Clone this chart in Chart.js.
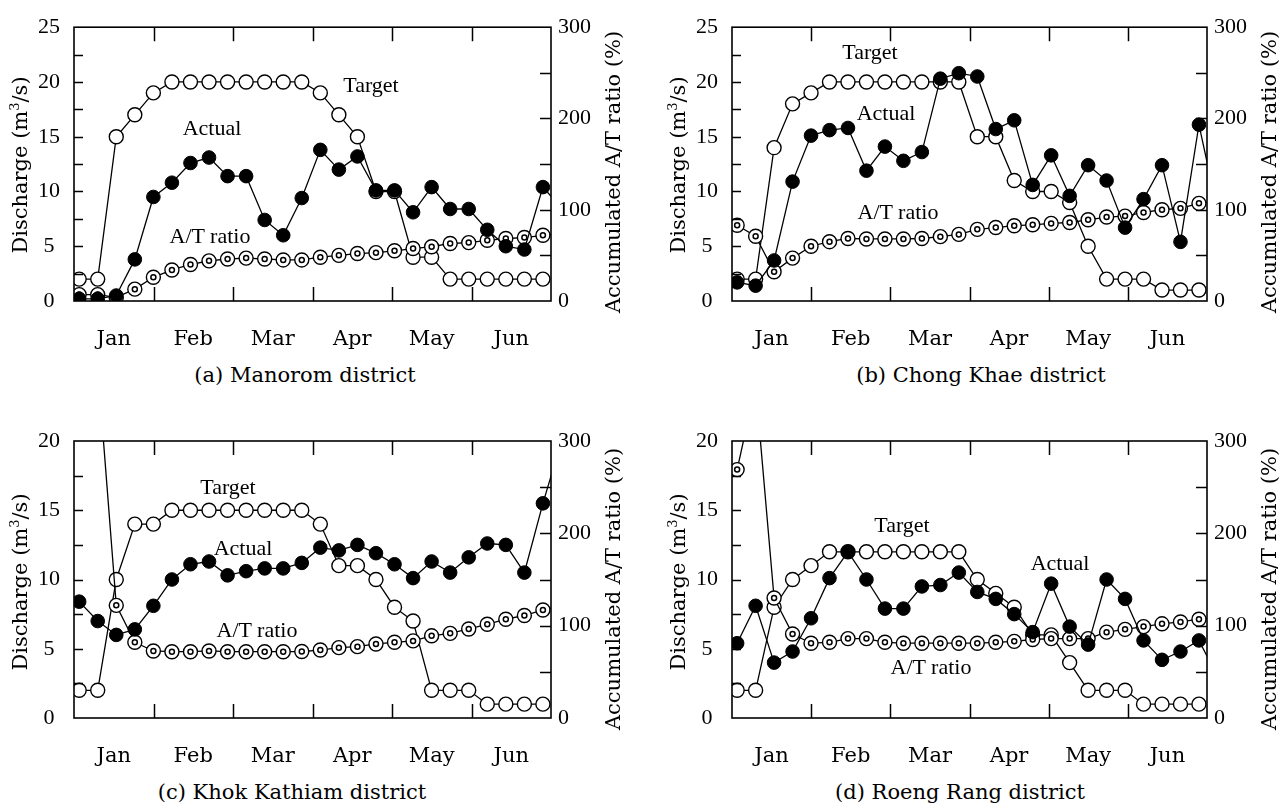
<!DOCTYPE html>
<html><head><meta charset="utf-8">
<script src="https://cdn.jsdelivr.net/npm/chart.js@4.4.1/dist/chart.umd.min.js"></script>
<style>
html,body{margin:0;padding:0;background:#fff;}
body{width:1281px;height:804px;overflow:hidden;position:relative;}
canvas{position:absolute;}
.t{position:absolute;white-space:nowrap;color:#000;font-family:'DejaVu Serif',serif;font-size:21px;line-height:1;transform:translate(-50%,-50%);}
.s{font-family:'Liberation Serif',serif;font-size:22px;}
.r{transform:translate(-50%,-50%) rotate(-90deg);}
sup{font-size:13px;vertical-align:0;position:relative;top:-8px;}
</style></head><body>
<canvas id="ca" width="640" height="360" style="left:0;top:0"></canvas>
<canvas id="cb" width="641" height="360" style="left:640px;top:0"></canvas>
<canvas id="cc" width="640" height="360" style="left:0;top:410px"></canvas>
<canvas id="cd" width="641" height="360" style="left:640px;top:410px"></canvas>

<div class="t r" style="left:20px;top:165px">Discharge (m<sup>3</sup>/s)</div>
<div class="t r" style="left:613px;top:172px">Accumulated A/T ratio (%)</div>
<div class="t r" style="left:678px;top:165px">Discharge (m<sup>3</sup>/s)</div>
<div class="t r" style="left:1269px;top:172px">Accumulated A/T ratio (%)</div>
<div class="t r" style="left:20px;top:582px">Discharge (m<sup>3</sup>/s)</div>
<div class="t r" style="left:613px;top:589px">Accumulated A/T ratio (%)</div>
<div class="t r" style="left:678px;top:582px">Discharge (m<sup>3</sup>/s)</div>
<div class="t r" style="left:1269px;top:589px">Accumulated A/T ratio (%)</div>

<div class="t" style="left:305px;top:375px">(a) Manorom district</div>
<div class="t" style="left:981px;top:375px">(b) Chong Khae district</div>
<div class="t" style="left:292px;top:792px">(c) Khok Kathiam district</div>
<div class="t" style="left:960px;top:792px">(d) Roeng Rang district</div>

<div class="t s" style="left:371px;top:85px">Target</div>
<div class="t s" style="left:212px;top:128px">Actual</div>
<div class="t s" style="left:210px;top:236px">A/T ratio</div>
<div class="t s" style="left:870px;top:52px">Target</div>
<div class="t s" style="left:886px;top:113px">Actual</div>
<div class="t s" style="left:898px;top:212px">A/T ratio</div>
<div class="t s" style="left:228px;top:487px">Target</div>
<div class="t s" style="left:243px;top:548px">Actual</div>
<div class="t s" style="left:257px;top:630px">A/T ratio</div>
<div class="t s" style="left:902px;top:525px">Target</div>
<div class="t s" style="left:1060px;top:563px">Actual</div>
<div class="t s" style="left:931px;top:667px">A/T ratio</div>

<script>
// ---- data (weekly points; last Actual/ratio point lies just past the axis end) ----
const months = ['Jan','Feb','Mar','Apr','May','Jun'];
const leftTicksTop = [0,5,10,15,20,25];
const leftTicksBottom = [0,5,10,15,20];
const ratioTicks = [0,100,200,300];

const manoromTarget = [2,2,15,17,19,20,20,20,20,20,20,20,20,19,17,15,10,10,4,4,2,2,2,2,2,2];
const manoromActual = [0.2,0.2,0.5,3.8,9.5,10.8,12.6,13.1,11.4,11.4,7.4,6.0,9.4,13.8,12.0,13.2,10.1,10.1,8.1,10.4,8.4,8.4,6.5,5.0,4.7,10.4,8.5];
const manoromRatio = [7,7,4,13,26,34,40,44,46,47,46,45,45,48,50,52,53,55,57.5,59.5,63,64,66.5,68.5,69.5,72,74];

const chongTarget = [2,2,14,18,19,20,20,20,20,20,20,20,20,15,15,11,10,10,9,5,2,2,2,1,1,1];
const chongActual = [1.7,1.4,3.7,10.9,15.1,15.6,15.8,11.9,14.1,12.8,13.6,20.3,20.8,20.5,15.7,16.5,10.6,13.3,9.6,12.4,11.0,6.7,9.3,12.4,5.4,16.1,8.3];
const chongRatio = [83,71,32,47,60,65,68.5,68,68,68,68.5,70.5,73,78.5,80.5,82.5,83.5,85,86,89,92,93,97,100,101.5,107,110];

const khokTarget = [2,2,10,14,14,15,15,15,15,15,15,15,15,14,11,11,10,8,7,2,2,2,1,1,1,1];
const khokActual = [8.4,7.0,6.0,6.4,8.1,10.0,11.1,11.3,10.3,10.6,10.8,10.8,11.2,12.3,12.1,12.5,11.9,11.1,10.1,11.3,10.5,11.6,12.6,12.5,10.5,15.5,20];
const khokRatio = [420,380,122,82,72.6,71.8,71.8,72.6,71.8,71.8,71.8,71.8,72,73.6,76.2,77.3,80.2,82,83.5,89,91.7,96.4,101.5,107,111,117,122];

const roengTarget = [2,2,8,10,11,12,12,12,12,12,12,12,12,10,9,8,6,6,4,2,2,2,1,1,1,1];
const roengActual = [5.4,8.1,4.0,4.8,7.2,10.1,12.0,10.0,7.9,7.9,9.5,9.6,10.5,9.1,8.6,7.5,6.2,9.7,6.6,5.3,10.0,8.6,5.6,4.2,4.8,5.6,3];
const roengRatio = [269,360,130,91,81,82,86,86,82,81,81,81,81,81,82,83,85,86,86,86,93,96,99,102,104,107,109];

// ---- layout ----
const FIRST_WEEK = 0.065;     // first point position, in months from axis start
const WEEK = 7 / 30;          // one week, in months
function pts(arr) { return arr.map((v, i) => ({ x: FIRST_WEEK + i * WEEK, y: v })); }

// inner ring of the A/T ratio marker, drawn on the library's own point elements
const innerRingPlugin = {
  id: 'innerRing',
  afterDatasetDraw(chart, args) {
    if (chart.data.datasets[args.index].label !== 'A/T ratio') return;
    const { ctx, chartArea: a } = chart;
    ctx.save();
    ctx.beginPath(); ctx.rect(a.left, a.top, a.right - a.left, a.bottom - a.top); ctx.clip();
    args.meta.data.forEach(p => {
      ctx.beginPath(); ctx.arc(p.x, p.y, 2.5, 0, Math.PI * 2);
      ctx.lineWidth = 1.5; ctx.strokeStyle = '#000'; ctx.stroke();
    });
    ctx.restore();
  }
};

const framePlugin = {
  id: 'frameTicks',
  afterDatasetsDraw(chart, args, o) {
    const { ctx, chartArea: { left, right, top, bottom }, scales } = chart;
    ctx.save();
    ctx.strokeStyle = '#000';
    ctx.lineWidth = 1.5;
    ctx.beginPath();
    for (let m = 1; m < months.length; m++) {
      const x = Math.round(scales.x.getPixelForValue(m)) + 0.5;
      ctx.moveTo(x, bottom); ctx.lineTo(x, bottom - 14);
      ctx.moveTo(x, top); ctx.lineTo(x, top + 14);
    }
    for (let v = 2.5; v < o.yMax; v += 2.5) {
      const y = Math.round(scales.y.getPixelForValue(v)) + 0.5;
      ctx.moveTo(left, y); ctx.lineTo(left + 9, y);
    }
    for (let v = 50; v < 300; v += 50) {
      const y = Math.round(scales.y2.getPixelForValue(v)) + 0.5;
      ctx.moveTo(right, y); ctx.lineTo(right - 11, y);
    }
    ctx.stroke();
    ctx.lineWidth = 1.6;
    ctx.strokeRect(left, top, right - left, bottom - top);
    ctx.restore();
  }
};

const numFont = { family: "'Liberation Serif', serif", size: 22 };
const wordFont = { family: "'DejaVu Serif', serif", size: 21 };

function makePanel(id, geo, yMax, yTicks, target, actual, ratio) {
  const el = document.getElementById(id);
  const W = el.width, H = el.height;
  const line = { borderColor: '#000', borderWidth: 1.3, tension: 0, clip: 0, pointHoverRadius: 7 };
  new Chart(el, {
    type: 'line',
    data: {
      datasets: [
        Object.assign({ label: 'Actual', data: pts(actual), yAxisID: 'y', pointRadius: 6.8,
          pointBackgroundColor: '#000', pointBorderColor: '#000', pointBorderWidth: 1 }, line),
        Object.assign({ label: 'A/T ratio', data: pts(ratio), yAxisID: 'y2', pointRadius: 7,
          pointBackgroundColor: '#fff', pointBorderColor: '#000', pointBorderWidth: 1.4 }, line),
        Object.assign({ label: 'Target', data: pts(target), yAxisID: 'y', pointRadius: 7,
          pointBackgroundColor: '#fff', pointBorderColor: '#000', pointBorderWidth: 1.4 }, line)
      ]
    },
    options: {
      responsive: false, animation: false, events: [],
      layout: { padding: { top: geo.top, left: 0, right: 0, bottom: 0 } },
      plugins: { legend: { display: false }, tooltip: { enabled: false }, frameTicks: { yMax } },
      scales: {
        x: {
          type: 'linear', min: 0, max: months.length, position: 'bottom',
          grid: { display: false, drawTicks: false }, border: { display: false },
          afterBuildTicks: s => { s.ticks = months.map((m, i) => ({ value: i + 0.5 })); },
          afterFit: s => { s.height = H - geo.bottom; },
          ticks: { autoSkip: false, maxRotation: 0, padding: 26, color: '#000', font: wordFont,
            callback: v => months[Math.floor(v)] }
        },
        y: {
          type: 'linear', min: 0, max: yMax, position: 'left',
          grid: { display: false, drawTicks: false }, border: { display: false },
          afterBuildTicks: s => { s.ticks = yTicks.map(v => ({ value: v })); },
          afterFit: s => { s.width = geo.left; },
          ticks: { crossAlign: 'center', padding: 14, color: '#000', font: numFont }
        },
        y2: {
          type: 'linear', min: 0, max: 300, position: 'right',
          grid: { display: false, drawTicks: false }, border: { display: false },
          afterBuildTicks: s => { s.ticks = ratioTicks.map(v => ({ value: v })); },
          afterFit: s => { s.width = W - geo.right; },
          ticks: { crossAlign: 'near', padding: 7, color: '#000', font: numFont }
        }
      }
    },
    plugins: [innerRingPlugin, framePlugin]
  });
}

makePanel('ca', { left: 74, right: 551, top: 24, bottom: 301 }, 25, leftTicksTop, manoromTarget, manoromActual, manoromRatio);
makePanel('cb', { left: 92, right: 567, top: 24, bottom: 301 }, 25, leftTicksTop, chongTarget, chongActual, chongRatio);
makePanel('cc', { left: 74, right: 551, top: 31, bottom: 308 }, 20, leftTicksBottom, khokTarget, khokActual, khokRatio);
makePanel('cd', { left: 92, right: 567, top: 31, bottom: 308 }, 20, leftTicksBottom, roengTarget, roengActual, roengRatio);
</script>
</body></html>
